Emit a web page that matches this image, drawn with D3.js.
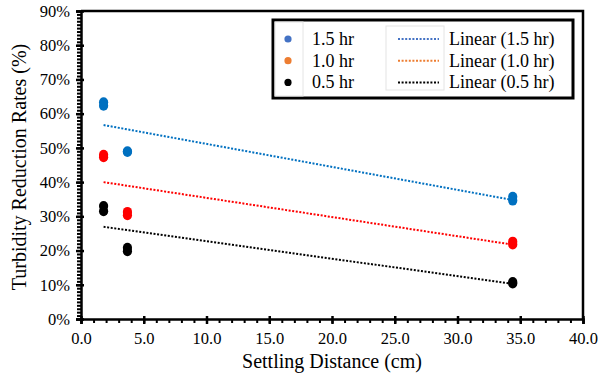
<!DOCTYPE html>
<html>
<head>
<meta charset="utf-8">
<script src="https://cdn.jsdelivr.net/npm/d3@7"></script>
<style>
  body { margin: 0; background: #fff; }
  text { font-family: "Liberation Serif", "Times New Roman", serif; fill: #000; }
</style>
</head>
<body>
<svg id="chart" width="600" height="381"></svg>
<script>
// DATA
const distances = [1.8, 1.8, 3.7, 3.7, 34.4, 34.4];
const rate15 = [0.633, 0.623, 0.490, 0.488, 0.357, 0.346];
const rate10 = [0.480, 0.473, 0.313, 0.303, 0.226, 0.218];
const rate05 = [0.330, 0.315, 0.208, 0.198, 0.108, 0.104];
const seriesNames = ["1.5 hr", "1.0 hr", "0.5 hr"];
const xTicks = [0, 5, 10, 15, 20, 25, 30, 35, 40];
const yTicks = [0, 0.1, 0.2, 0.3, 0.4, 0.5, 0.6, 0.7, 0.8, 0.9];

// CONFIGURATION AREA
const margin = {top: 11, right: 17, bottom: 62, left: 81};
const width = 600 - margin.left - margin.right;
const height = 381 - margin.top - margin.bottom;

const pointColors = ["#0070C0", "#FF0000", "#000000"];
const legendColors = ["#4472C4", "#ED7D31", "#000000"];
const serif = '"Liberation Serif", "Times New Roman", serif';

const series = [rate15, rate10, rate05].map((vals, i) => ({
    name: seriesNames[i],
    values: vals.map((v, j) => ({x: distances[j], y: v}))
}));

// least squares trend line, like Excel's linear trendline
function linearFit(values) {
    const mx = d3.mean(values, d => d.x), my = d3.mean(values, d => d.y);
    const sxy = d3.sum(values, d => (d.x - mx) * (d.y - my));
    const sxx = d3.sum(values, d => (d.x - mx) * (d.x - mx));
    const slope = sxy / sxx;
    const [x0, x1] = d3.extent(values, d => d.x);
    return [{x: x0, y: my + slope * (x0 - mx)}, {x: x1, y: my + slope * (x1 - mx)}];
}

const svg = d3.select("#chart");
const g = svg.append("g").attr("transform", `translate(${margin.left},${margin.top})`);

const x = d3.scaleLinear().domain([0, 40]).range([0, width]);
const y = d3.scaleLinear().domain([0, 0.9]).range([height, 0]);

// frame (top and right)
g.append("path")
    .attr("d", `M0,0H${width}V${height}`)
    .attr("fill", "none")
    .attr("stroke", "#000")
    .attr("stroke-width", 2.5);

// minor ticks
g.append("g")
    .attr("transform", `translate(0,${height})`)
    .call(d3.axisBottom(x).tickValues(d3.range(0, 41, 1)).tickSize(4).tickFormat(""))
    .call(a => a.select(".domain").remove())
    .selectAll("line").attr("stroke-width", 2);
g.append("g")
    .call(d3.axisLeft(y).tickValues(d3.range(0, 91, 1).map(v => v / 100)).tickSize(4).tickFormat(""))
    .call(a => a.select(".domain").remove())
    .selectAll("line").attr("stroke-width", 2);

// major axes
const xAxis = g.append("g")
    .attr("transform", `translate(0,${height})`)
    .call(d3.axisBottom(x).tickValues(xTicks).tickSize(5).tickPadding(8).tickFormat(d3.format(".1f")));
const yAxis = g.append("g")
    .call(d3.axisLeft(y).tickValues(yTicks).tickSize(5).tickPadding(6).tickFormat(d3.format(".0%")));

[xAxis, yAxis].forEach(a => {
    a.attr("font-family", serif).attr("font-size", 16);
    a.select(".domain").attr("stroke-width", 2.5);
    a.selectAll(".tick line").attr("stroke-width", 2.5);
    a.selectAll(".tick text").style("font-family", serif).style("font-size", "16.5px");
});
xAxis.selectAll(".tick line").attr("y1", -3);
yAxis.selectAll(".tick line").attr("x1", 3);

// axis titles
svg.append("text")
    .attr("x", margin.left + width / 2)
    .attr("y", 368)
    .attr("text-anchor", "middle")
    .style("font-family", serif)
    .style("font-size", "20px")
    .text("Settling Distance (cm)");
svg.append("text")
    .attr("transform", `translate(26,${margin.top + height / 2 + 2}) rotate(-90)`)
    .attr("text-anchor", "middle")
    .style("font-family", serif)
    .style("font-size", "20px")
    .text("Turbidity Reduction Rates (%)");

// trend lines
const line = d3.line().x(d => x(d.x)).y(d => y(d.y));
series.forEach((s, i) => {
    g.append("path")
        .datum(linearFit(s.values))
        .attr("d", line)
        .attr("fill", "none")
        .attr("stroke", pointColors[i])
        .attr("stroke-width", 2)
        .attr("stroke-dasharray", "2,1.6");
});

// points
series.forEach((s, i) => {
    g.append("g").selectAll("ellipse")
        .data(s.values)
        .enter()
        .append("ellipse")
        .attr("cx", d => x(d.x))
        .attr("cy", d => y(d.y))
        .attr("rx", 4.6)
        .attr("ry", 5)
        .attr("fill", pointColors[i]);
});

// legend
const legend = svg.append("g").attr("transform", "translate(273,20)");
legend.append("rect")
    .attr("width", 300).attr("height", 78)
    .attr("fill", "#fff").attr("stroke", "#000").attr("stroke-width", 3);
legend.append("rect")
    .attr("x", 2).attr("y", 2).attr("width", 28).attr("height", 74)
    .attr("fill", "none").attr("stroke", "#e4e4e4").attr("stroke-width", 1);
legend.append("rect")
    .attr("x", 113).attr("y", 6).attr("width", 58).attr("height", 64)
    .attr("fill", "none").attr("stroke", "#e4e4e4").attr("stroke-width", 1);

const rows = legend.selectAll("g.row")
    .data(seriesNames)
    .enter()
    .append("g")
    .attr("class", "row")
    .attr("transform", (d, i) => `translate(0,${19 + i * 21.7})`);
rows.append("circle")
    .attr("cx", 15).attr("cy", 0).attr("r", 3.6)
    .attr("fill", (d, i) => legendColors[i]);
rows.append("text")
    .attr("x", 39).attr("y", 6)
    .style("font-family", serif)
    .style("font-size", "18px")
    .text(d => d);
rows.append("line")
    .attr("x1", 125).attr("x2", 166).attr("y1", 0).attr("y2", 0)
    .attr("stroke", (d, i) => legendColors[i])
    .attr("stroke-width", 2)
    .attr("stroke-dasharray", "2,1.6");
rows.append("text")
    .attr("x", 176).attr("y", 6)
    .style("font-family", serif)
    .style("font-size", "18px")
    .text(d => `Linear (${d})`);
</script>
</body>
</html>
